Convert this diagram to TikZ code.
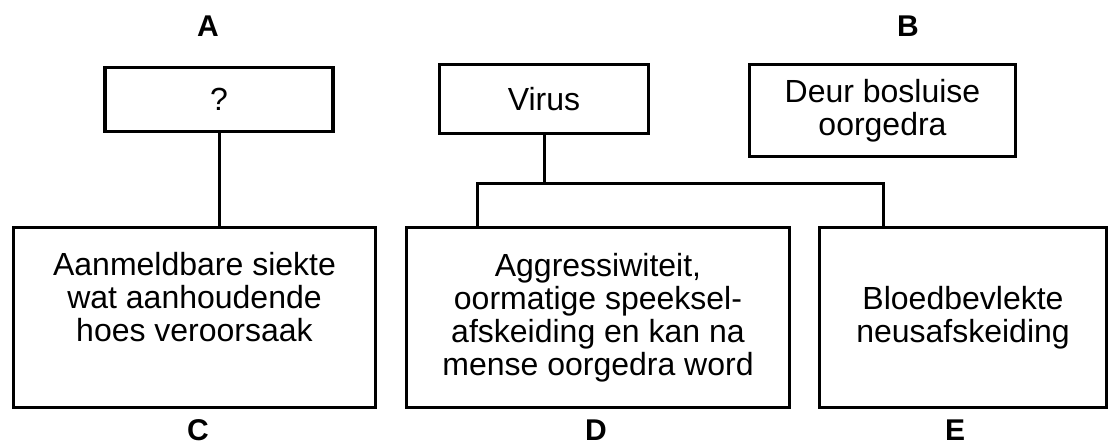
\documentclass[tikz,border=0pt]{standalone}
\usepackage{fontspec}
\setmainfont{Liberation Sans}
\begin{document}
\begin{tikzpicture}[x=1pt,y=-1pt,
  box/.style={draw, line width=3.2pt, inner sep=0pt, align=center, font=\fontsize{32}{33}\selectfont},
  lbl/.style={font=\bfseries\fontsize{30}{32}\selectfont, inner sep=0pt},
  conn/.style={line width=3pt, line join=miter}]
\useasboundingbox (0,0) rectangle (1110,446);
\node[box, minimum width=228pt, minimum height=64pt] (Q) at (219,99.5) {?};
\node[box, minimum width=209pt, minimum height=69pt] (V) at (544,99) {Virus};
\node[box, minimum width=266pt, minimum height=92pt] (T) at (882.5,110.5) {Deur bosluise\\oorgedra};
\node[box, minimum width=362pt, minimum height=180pt] (C) at (194.5,317.5) {Aanmeldbare siekte\\wat aanhoudende\\hoes veroorsaak\\[8pt]};
\node[box, minimum width=383pt, minimum height=180pt] (D) at (598,317.5) {Aggressiwiteit,\\oormatige speeksel-\\afskeiding en kan na\\mense oorgedra word};
\node[box, minimum width=287pt, minimum height=180pt] (E) at (963,317.5) {Bloedbevlekte\\neusafskeiding};
\node[lbl] (LA) at (208,26) {A};
\node[lbl] (LB) at (908,26) {B};
\node[lbl] (LC) at (198,430) {C};
\node[lbl] (LD) at (596,430) {D};
\node[lbl] (LE) at (955,430) {E};
\coordinate (Jl) at (477,184);
\coordinate (Jr) at (883,184);
\draw[conn] (Q.south) -- (Q.south |- C.north);
\draw[conn] (V.south) -- (V.south |- Jl);
\draw[conn] (D.north -| Jl) -- (Jl) -- (Jr) -- (E.north -| Jr);
\end{tikzpicture}
\end{document}
